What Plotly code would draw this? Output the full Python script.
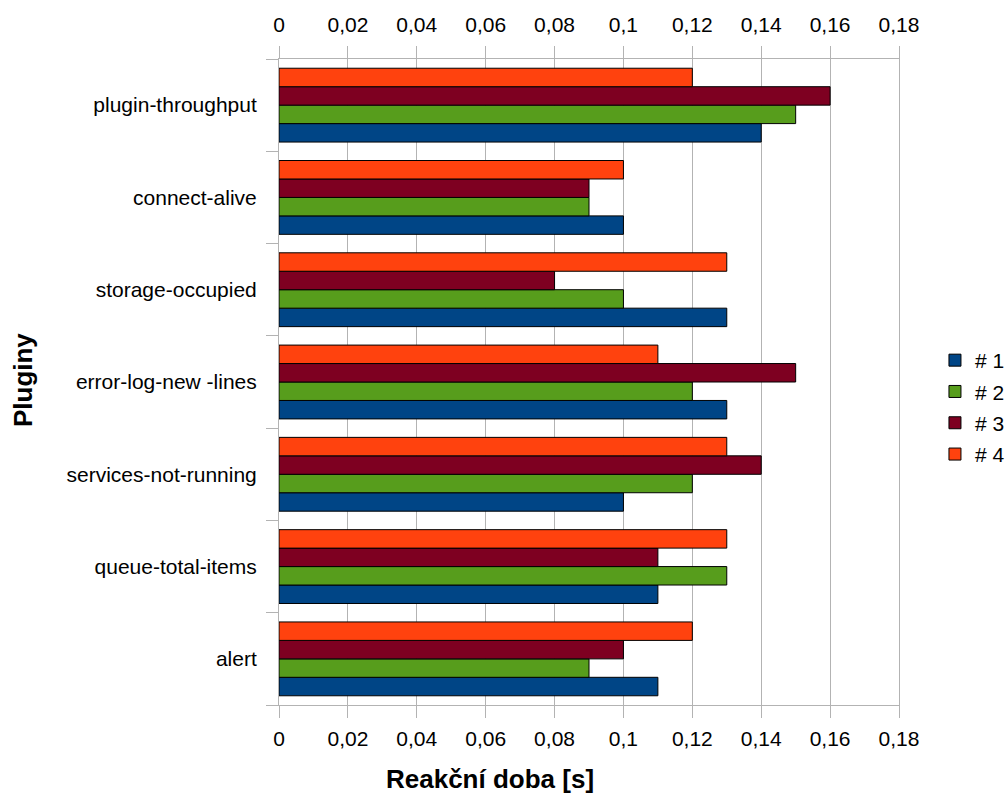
import plotly.graph_objects as go

# Plugins, listed bottom-to-top as they appear on the category axis
plugins = [
    "alert",
    "queue-total-items",
    "services-not-running",
    "error-log-new -lines",
    "storage-occupied",
    "connect-alive",
    "plugin-throughput",
]

# Reaction time [s] per measurement run
run_1 = [0.11, 0.11, 0.10, 0.13, 0.13, 0.10, 0.14]
run_2 = [0.09, 0.13, 0.12, 0.12, 0.10, 0.09, 0.15]
run_3 = [0.10, 0.11, 0.14, 0.15, 0.08, 0.09, 0.16]
run_4 = [0.12, 0.13, 0.13, 0.11, 0.13, 0.10, 0.12]

series_names = ["# 1", "# 2", "# 3", "# 4"]
series_values = [run_1, run_2, run_3, run_4]
series_colors = ["#004586", "#579d1c", "#7e0021", "#ff420e"]

x_ticks = [0, 0.02, 0.04, 0.06, 0.08, 0.1, 0.12, 0.14, 0.16, 0.18]

FONT = "Liberation Sans, Arial, sans-serif"
GRID = "#b3b3b3"
TICK_SIZE = 21
TITLE_SIZE = 26

fig = go.Figure()
for name, vals, color in zip(series_names, series_values, series_colors):
    fig.add_trace(go.Bar(
        y=plugins,
        x=vals,
        name=name,
        legendgroup=name,
        orientation="h",
        marker=dict(color=color, line=dict(color="#000000", width=1)),
    ))

fig.update_layout(
    width=1008,
    height=802,
    margin=dict(l=279, r=109, t=59, b=97, autoexpand=False),
    paper_bgcolor="white",
    plot_bgcolor="white",
    separators=",.",
    barmode="group",
    bargap=0.2,
    bargroupgap=0,
    font=dict(family=FONT, size=TICK_SIZE, color="#000000"),
    xaxis=dict(
        range=[0, 0.18],
        tickvals=x_ticks,
        showgrid=True,
        gridcolor=GRID,
        gridwidth=1,
        zeroline=False,
        showline=True,
        linecolor=GRID,
        linewidth=1,
        mirror=True,
        ticks="outside",
        ticklen=12,
        tickcolor=GRID,
        ticklabelstandoff=3,
        tickfont=dict(size=TICK_SIZE),
    ),
    xaxis2=dict(
        range=[0, 0.18],
        tickvals=x_ticks,
        overlaying="x",
        side="top",
        anchor="y",
        showgrid=False,
        zeroline=False,
        showline=False,
        ticks="outside",
        ticklen=12,
        tickcolor=GRID,
        ticklabelstandoff=6,
        tickfont=dict(size=TICK_SIZE),
    ),
    yaxis=dict(
        categoryorder="array",
        categoryarray=plugins,
        showgrid=False,
        zeroline=False,
        showline=True,
        linecolor=GRID,
        linewidth=1,
        mirror=True,
        ticks="outside",
        tickson="boundaries",
        ticklen=12,
        tickcolor=GRID,
        ticklabelstandoff=17,
        tickfont=dict(size=TICK_SIZE),
    ),
    legend=dict(
        x=1.058,
        y=0.565,
        xanchor="left",
        yanchor="top",
        traceorder="grouped",
        tracegroupgap=1,
        font=dict(size=TICK_SIZE),
        bgcolor="rgba(0,0,0,0)",
    ),
    showlegend=True,
    annotations=[
        dict(
            text="<b>Reakční doba [s]</b>",
            x=0.3403, y=-0.1146,
            xref="paper", yref="paper",
            xanchor="center", yanchor="middle",
            showarrow=False,
            font=dict(size=TITLE_SIZE),
        ),
        dict(
            text="<b>Pluginy</b>",
            x=-0.4129, y=0.503,
            xref="paper", yref="paper",
            xanchor="center", yanchor="middle",
            textangle=-90,
            showarrow=False,
            font=dict(size=TITLE_SIZE),
        ),
    ],
)

# Invisible trace so the top axis carries the same tick labels
fig.add_trace(go.Scatter(
    x=[0, 0.18], y=[plugins[0], plugins[0]],
    xaxis="x2", mode="markers",
    marker=dict(opacity=0), showlegend=False, hoverinfo="skip",
))

fig.write_html("out.html")
